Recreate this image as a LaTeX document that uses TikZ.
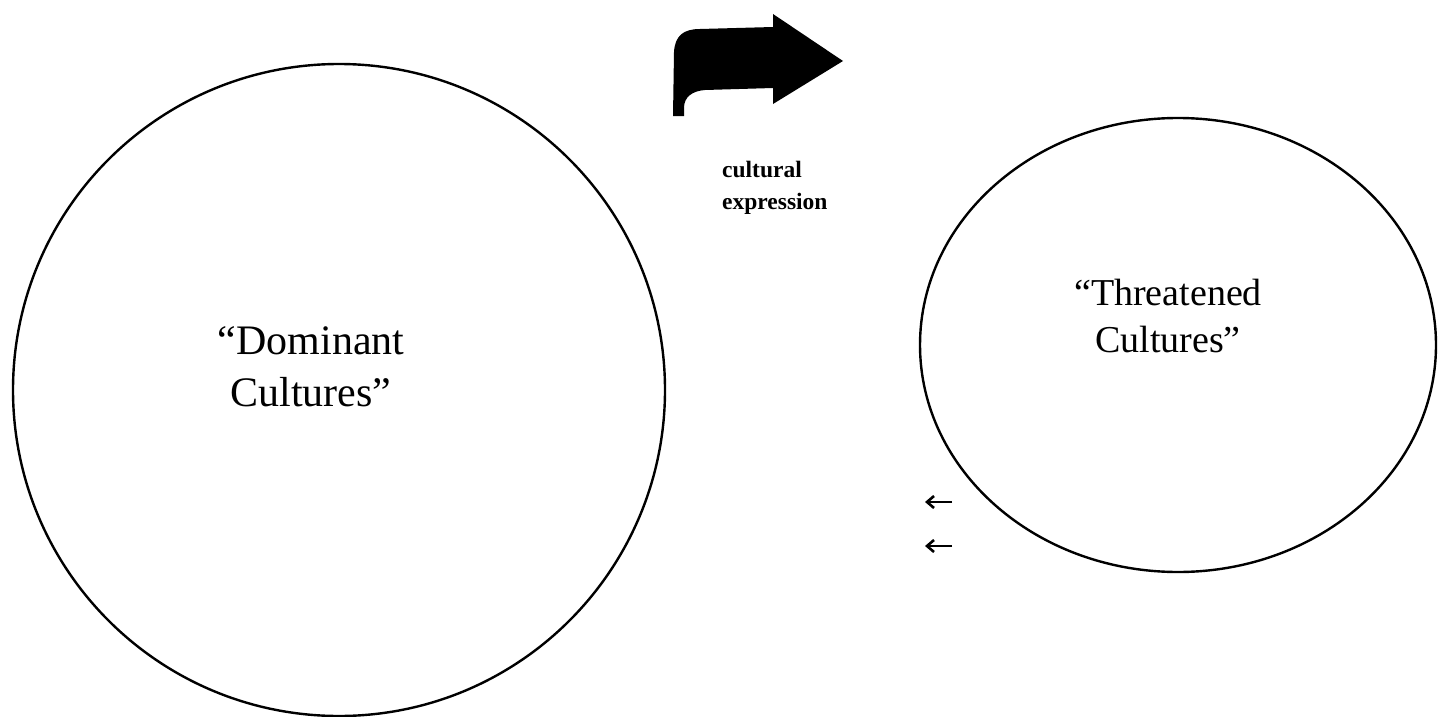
\documentclass[tikz,border=0pt]{standalone}
\usepackage{fontspec}
\setmainfont{Liberation Serif}
\usetikzlibrary{shapes.geometric,arrows.meta}
\begin{document}
\begin{tikzpicture}[x=1pt,y=-1pt,
  ring/.style={draw=black,line width=2.4pt,inner sep=0pt,outer sep=0pt},
  bigtext/.style={align=center,inner sep=0pt,font=\fontsize{42}{52}\selectfont},
  midtext/.style={align=center,inner sep=0pt,font=\fontsize{38}{47}\selectfont},
  smalltext/.style={align=left,inner sep=0pt,font=\bfseries\fontsize{23.5}{32}\selectfont},
  leftarrow/.style={draw=black,line width=2.6pt,-{Straight Barb[length=7pt,width=12pt,line width=2.6pt]}}
]
\useasboundingbox (0,0) rectangle (1438,717);
\fill[white] (0,0) rectangle (1438,717);
% circles
\node[ring,circle,minimum size=652pt] (dom) at (339,390) {};
\node[ring,ellipse,minimum width=516pt,minimum height=454pt] (thr) at (1178,345) {};
% labels
\node[bigtext] (domtxt) at (311,367) {``Dominant\\Cultures''};
\node[midtext] (thrtxt) at (1168,316) {``Threatened\\Cultures''};
\node[smalltext,anchor=north west] (ce) at (722,161) {cultural\\expression};
% big black bent arrow
\fill[black] (673,116) -- (674,52)
  .. controls (675,36) and (683,29) .. (700,29)
  -- (773,27) -- (773,14) -- (843,61) -- (773,104) -- (773,88)
  -- (705,90) .. controls (692,91) and (684,97) .. (684,108)
  -- (684,116) -- cycle;
% small arrows
\coordinate (a1s) at (952,502);
\coordinate (a1e) at (925,502);
\coordinate (a2s) at (952,546);
\coordinate (a2e) at (925,546);
\draw[leftarrow] (a1s) -- (a1e);
\draw[leftarrow] (a2s) -- (a2e);
\end{tikzpicture}
\end{document}
